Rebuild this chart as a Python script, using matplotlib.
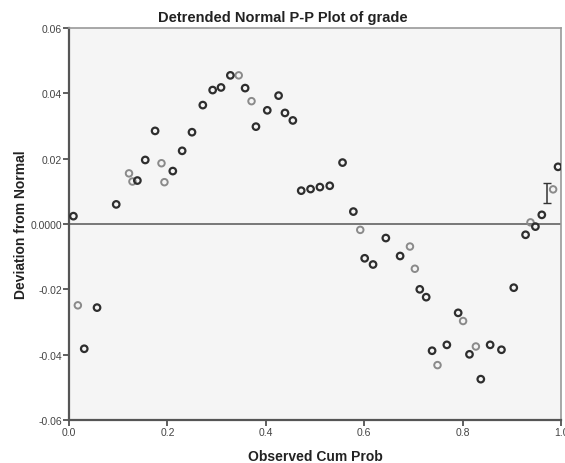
import matplotlib
matplotlib.use("Agg")
import matplotlib.pyplot as plt
import numpy as np

plt.rcParams['font.family'] = ['Liberation Sans', 'DejaVu Sans']

# observed cum prob / deviation from normal
# dark points
x_dark = [0.009, 0.031, 0.057, 0.096, 0.139, 0.155, 0.175, 0.211, 0.230, 0.250,
          0.272, 0.292, 0.309, 0.328, 0.358, 0.380, 0.403, 0.426, 0.439, 0.455,
          0.472, 0.491, 0.510, 0.530, 0.556, 0.578, 0.601, 0.618, 0.644, 0.673,
          0.713, 0.726, 0.738, 0.768, 0.791, 0.814, 0.837, 0.856, 0.879, 0.904,
          0.928, 0.948, 0.961, 0.994]
y_dark = [0.0024, -0.0382, -0.0256, 0.0060, 0.0133, 0.0196, 0.0285, 0.0162, 0.0224, 0.0281,
          0.0364, 0.0410, 0.0418, 0.0455, 0.0416, 0.0298, 0.0348, 0.0393, 0.0340, 0.0317,
          0.0102, 0.0107, 0.0113, 0.0117, 0.0188, 0.0038, -0.0105, -0.0124, -0.0043, -0.0098,
          -0.0200, -0.0224, -0.0388, -0.0370, -0.0272, -0.0399, -0.0475, -0.0370, -0.0385, -0.0195,
          -0.0033, -0.0008, 0.0028, 0.0175]
# lighter points
x_light = [0.018, 0.122, 0.129, 0.188, 0.194, 0.345, 0.371, 0.592, 0.693, 0.703,
           0.749, 0.801, 0.827, 0.938, 0.984]
y_light = [-0.0249, 0.0155, 0.0130, 0.0186, 0.0128, 0.0455, 0.0376, -0.0018, -0.0069, -0.0137,
           -0.0432, -0.0297, -0.0375, 0.0005, 0.0106]

# the little I-shaped mark near the right edge
bar_x = [0.971]
bar_y = [0.0095]
bar_err = [0.003]

xticks = [0.0, 0.2, 0.4, 0.6, 0.8, 1.0]
xticklabels = ['0.0', '0.2', '0.4', '0.6', '0.8', '1.0']
yticks = [-0.06, -0.04, -0.02, 0.0, 0.02, 0.04, 0.06]
yticklabels = ['-0.06', '-0.04', '-0.02', '0.0000', '0.02', '0.04', '0.06']

fig = plt.figure(figsize=(5.65, 4.64), dpi=100)
ax = fig.add_axes([0.1221, 0.0927, 0.8708, 0.8448])
ax.set_facecolor('#f5f5f5')

ax.axhline(0, color='#777777', lw=1.4, zorder=1)

ax.scatter(x_light, y_light, s=22, facecolors='none', edgecolors='#8a8a8a', linewidths=1.4, zorder=3)
ax.scatter(x_dark, y_dark, s=22, facecolors='none', edgecolors='#2e2e2e', linewidths=1.6, zorder=3)
ax.errorbar(bar_x, bar_y, yerr=bar_err, fmt='none', ecolor='#333333', elinewidth=1.1, capsize=3, zorder=3)

ax.set_xlim(0, 1.0)
ax.set_ylim(-0.06, 0.06)
ax.set_xticks(xticks)
ax.set_xticklabels(xticklabels)
ax.set_yticks(yticks)
ax.set_yticklabels(yticklabels)
ax.tick_params(direction='out', length=4, width=1.2, color='#444444', labelsize=7.5, labelcolor='#444444', pad=1)

for s in ['left', 'bottom']:
    ax.spines[s].set_color('#555555')
    ax.spines[s].set_linewidth(1.6)
for s in ['top', 'right']:
    ax.spines[s].set_color('#999999')
    ax.spines[s].set_linewidth(1.2)

# title is centred on the whole figure, not the axes
fig.text(0.5, 0.962, 'Detrended Normal P-P Plot of grade', ha='center', va='center',
         fontsize=10.5, fontweight='bold', color='#222222')
ax.set_xlabel('Observed Cum Prob', fontsize=10, fontweight='bold', color='#222222', labelpad=9)
ax.set_ylabel('Deviation from Normal', fontsize=10, fontweight='bold', color='#222222', labelpad=2)

fig.savefig('out.png', dpi=100, facecolor='white')
